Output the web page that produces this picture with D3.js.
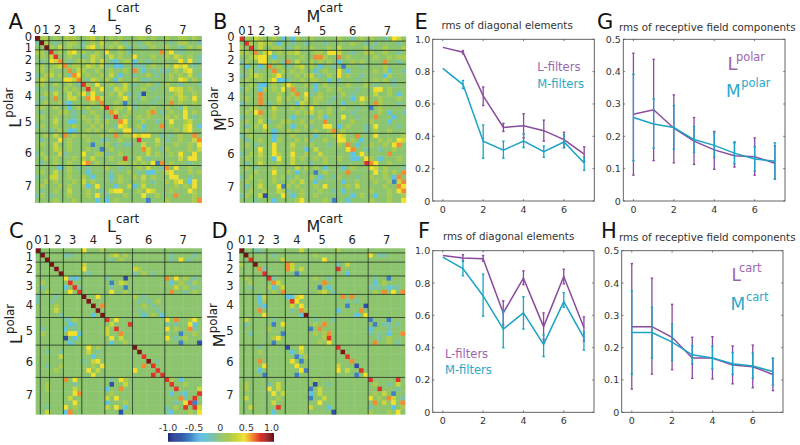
<!DOCTYPE html>
<html>
<head>
<meta charset="utf-8">
<style>
html,body{margin:0;padding:0;background:#fff;}
svg{display:block;font-family:"DejaVu Sans",sans-serif;}
</style>
<script src="https://cdn.jsdelivr.net/npm/d3@7"></script>
</head>
<body>
<svg id="c" width="800" height="445">
<defs><filter id="soft" x="-2%" y="-2%" width="104%" height="104%"><feGaussianBlur stdDeviation="0.4"/></filter></defs>
</svg>
<script>
// ---- heat map data: every letter is one cell's colour level
const levelCodes  = ['a','b','c','d','.','e','f','g','h','i','j'];
const levelValues = [-0.8,-0.6,-0.35,-0.15,0,0.15,0.3,0.45,0.6,0.75,0.95];
const groupSizes = [1,2,3,4,5,6,7,8];
const groupLabels = ['0','1','2','3','4','5','6','7'];

const heatA = [
"j ee .e. eee. .ef.e .e.e.. .ee.e.. e..ee.e.",
"d je .d. .ee. d.e.f ..e.d. .d.e... .d.ee..d",
". .j e.f .e.. dfg.e .e.f.d ..d.e.. e..d.e.e",
"e e. i.e .fg. e..e. g..e.d ......h eg.d....",
". e. fi. .e.. d.fe. .f.e.. g...e.. e.fe.e.d",
". d. gfh .d.e e.f.f .dc.ee c..d... ...g.g.d",
". e. .ef h.ee .fe.f d.cc.. ddd.e.. e.gfg.d.",
". e. e.. .h.f e..e. .e..e. h.c.d.d d.e.fg..",
"d .e f.e .dhg .e..e .f.c.. d..e.d. .e.e.f.d",
". fe d.. ggfh .dfe. e.ce.. e.dd... .e.gf.e.",
". e. .e. .e.d ie.g. .e..f. d..e.d. e..d...d",
"d .. d.. e.e. .ie.g .dfef. ..e.d.. .gff.e..",
". .e .f. .f.e g.g.. .e.f.d .da.... ..ef..e.",
". d. .h. .ff. .hghf ...eg. .de..d. .e.fe.g.",
"d .e ..e dc.. ..e.h ..e.b. d...d.. .h.e..e.",
". e. .e. .c.e .e..e i.ee.f d...e.. e..df...",
". d. ..e e.d. d.e.. .hf..e ...eh.d .e..g.e.",
". e. .e. ..d. e..e. d.i.e. .e.e... e.e.g.d.",
". .. .f. .cc. .e.e. e..hg. ..e..d. .g..ef..",
"d e. .e. ..e. ..e.e ..dgf. .ec...h .e..fg.c",
". .. d.e .cc. .e.e. .e..gg d.d.... ..e.fg..",
". .e .f. h.e. e...e ..h.ee gfgg..d .d.e..h.",
". d. ..g .e.. .e..d d..e.. .i...f. d..e..fh",
". e. .f. .e.. ..b.. e.d.dd ..f..e. ..e..e.g",
". .. .fe .e.. .e..b .e.... ..hf..d e....e.f",
"d e. ..f d... g..ee d..e.. ...f.e. .e.g..g.",
". .e .e. ..e. e.f.. .e..i. .f.d... ...f.gg.",
". d. .e. .e.. gh.e. ...ee. e.e.gbh .e...d..",
". .. ..c .e.d .d... e..d.. .e.f..d h.g..e..",
". e. .f. .e.. .c... .d...e .d.cc.. fg...e.e",
"d .. ff. .e.. e.c.. .c.e.. e.f.e.. .gg..d..",
". .e .e. ..e. f.e.. .d.e.. ..e.d.. e.fg.cg.",
". e. ..e .e.. ec.g. ..c..f c.f.... ..e.e.g.",
". d. .e. .f.. .e..d .fgg.. .e.gf.. .e...ge.",
"d e. d.. .e.. .e.g. d...e. ..g..e. ..h...e.",
". .. .e. ..e. ...c. c.e... ...b... e.....eh"
];
const heatB = [
"i e. fe. .e.c .ce.. e..... e..d.e. e..d.gf.",
". ie .fe e.c. .d..d ...d.. ...e..d .d....d.",
"e .i .f. .ee. d.e.. e...e. f.....e d..e...e",
"e e. h.f g.e. eef.. .ee.gg f..d..e e..e..d.",
". .e fgg .c.. ...e. .hhe.. h.e.... .e..e.ee",
"d e. .gg .e.d h.f.. e.e.e. c..e.e. ...h..d.",
". c. .c. h.e. d.ef. e.c..d .b...d. ...e....",
". .e d.. .h.e .e.e. .c.e.. g.c.... .e.ec..d",
"d .e fe. .eg. ..e.e f.d.e. g.e..d. ...ce...",
". e. .e. egcc d..e. ee..c. d...d.. .e.e.d..",
". .e .cc .e.e ge..e .c.e.. ..e...e .d...d..",
"d e. .ce .e.g .h... .c..e. e...d.. .gg.e...",
". .. .h. ..e. .eh.g d.e... .e.d... .f..e.c.",
". e. .h. ..f. e.e.f .ee..d ...c.ge ..e...e.",
"d .. .h. d.e. ..cfe .e..d. .c...e. .he...d.",
". .e e.. .f.. .e.e. g...e. .e..d.. b.e.....",
". e. gh. .e.. ..e.e f.e.e. ...d... ..e.c..d",
"d .. .e. .e.. .c... d.ec.. .g..d.. .h...c..",
". e. .f. d..e e..e. e..h.. ...e... e...c...",
". d. e.g ..e. .c..e d..gg. c.e...d .g....d.",
". e. ..e .c.. e.e.. .e..eh .e....d .e..e...",
"d .e ... .c.. .e... .c...e gf..h.. .g.....e",
". d. .e. .ce. ..e.e d..e.. gg.e.c. ..e.e.gf",
". e. d.. .g.. .f... e...d. e.h.c.. e..e.gh.",
". .. .g. .g.. .e..c .f.... ..gh..d ..d..e..",
"d .e .f. .ge. .g..e ..f... ...c.g. ....h...",
". e. .e. .cg. .f.e. .e.e.. e..cc.g e.c...e.",
". d. .f. ..e. .f... d..e.. ......i hg..e...",
". e. d.. .e.. ..f.e .e.c.. .c.e... gf.e...d",
". .. e.. .g.. e.c.. .b.e.. ..h.... .g.e.e.h",
"d .e ... .e.e d.e.. e.c..d e...d.. e..e.ch.",
". e. .e. .e.. .e.f. .c.... .c..e.. .e..ebfh",
". d. .f. ..gb e.e.. .e.g.. ..e.f.. ...e..hg",
". .e ..e ..fe d..e. ..e..d .c..... e...e.gh",
"d e. .fa ...g .c.e. .e.... ...c.e. .c..e..e",
". .. d.. .c.. ..eg. ...e.b ..c.... e...e..g"
];
const heatC = [
"j .. ... .... g...e ...... ....... ........",
". j. ... dd.. ..... .ef.e. ....... .d....d.",
". .j ... .... ..... .d.e.. ....... .d.g.d..",
". .. j.. .... f.... ...... ....... ........",
". .. .j. .... g.... ...... fe..... ........",
". .. ..j .... .d... ...... d.e.d.. ........",
". .. ... gdcd ..... d...a. ....... h.g.e.d.",
". e. ... .i.. ..... .b.fe. ....... .c.e.de.",
". d. ... c.id ..... .d..b. ....... ..f.e.d.",
". .e ... .g.i ..... .g..e. ....... .h..d.e.",
"d .. .d. .... j..g. ...... e.d.... ........",
"d .. d.. .... .j... ...... .d.d.e. ........",
". .. .e. .... ..j.h ...... ..e.d.. ........",
". .. .f. .... ...j. ...... .d...d. ........",
". .. ..d .... ..c.j ...... ..c.e.c ........",
". .. ... dde. ..... i.g... ....... g.h..eg.",
". .. ... .cd. ..... .f...i ....... d.d..gc.",
". d. ... c.d. ..... f.i... ....... g.e..hd.",
". e. ... .ggc ..... f..h.. ....... ...b..e.",
". .. ... a.c. ..... .g.f.. ....... g.d.e...",
". .. ... .c.. ..... .c..e. ....... ...b...a",
". .. ... .... .g.e. ...... j...... ........",
". .d ..d .... .f.d. ...... .j..... ........",
". .. ..f .... ..c.. ...... ..i.... ........",
". .. ... .... d.fg. ...... ...j.d. ........",
". .d ..e .... ..e.g ...... ..h.i.. ........",
". .. .e. .... .g.f. ...... g....i. ........",
". .. ... .... ..g.. ...... ....i.i ........",
". .. ... h.g. ..... .d.ge. ....... ie.c....",
". .e ... ..d. ..... .a..f. ....... .i..e...",
". .e ... ..f. ..... c..h.. ....... ..i....f",
". .. ... ..gh ..... .e.... ....... .c.dc..i",
". .. ... .f.. ..... f.g... ....... ...hd.i.",
". .. ... ..g. ..... c...e. ....... ..d.gib.",
". .d ... g.e. ..... f.g.c. ....... d.e.i.if",
". .f ... ch.. ..... ...a.. ....... dc...e.g"
];
const heatD = [
"j .. dd. .... ...f. ...... e...... ........",
". j. ... .d.. ..... .e.... ....... g.dd....",
". .i ... ...f ..... ...g.. ....... ........",
"e .. j.. .... hf... ...... d.f.... ........",
". .. .hd .... hf.f. ...... i...... ........",
". .. ..i .... ..b.. ...... ..c.... ........",
". e. ... id.. ..... .e..d. ....... .d..b...",
". .e ... .hf. ..... ...h.. ....... .c.e....",
". .d ... ec.f ..... ..b.c. ....... ddd.cdd.",
". .. ... .e.h ..... ..ef.d ....... .e.h.g.h",
". .. .cf .... ccfg. ...... .h.h... ........",
". .. .ce .... .ig.. ...... ..d.d.. ........",
". .. .dc .... .f.g. ...... ..b...a ........",
". .. .h. .... .d.he ...... c....h. ........",
". .. ..g .... ...cj ...... ....c.g ........",
". f. ... .d.. ..... .d...d ....... b...b...",
". d. ... .b.g ..... .e.h.. ....... .b.dd.d.",
". .. ... e... ..... b.h... ....... c...d...",
". .d ... ...b ..... .e.eh. ....... d.d.c..h",
". .. ... .eg. ..... ...ei. ....... ..d.e...",
". .. ... .b.. ..... ..e.g. ....... .h..e.d.",
". .. .d. .... a..g. ...... i...... ........",
". .. .e. .... .c.f. ...... .j..... ........",
". .. ... .... ..bde ...... ..i.... ........",
". .. .h. .... .g.b. ...... ...h... ........",
". .. ..g .... ..g.. ...... f...a.. ........",
". .. .c. .... ...gb ...... g.f..i. ........",
". .. ..b .... ..b.. ...... ....b.g ........",
". .. ... .... ..... .e.... ....... i.....i.",
". e. ... d.f. ..... .a..d. ....... .e..d.f.",
". e. ... g.f. ..... b.f... ....... ..i...d.",
". .. ... .g.f ..... c.f... ....... .e.f.b..",
". f. ... ..e. ..... b..f.. ....... g.e.hf.d",
". .. ... .f.. ..... ..g... ....... .h.f.g.h",
". .f ... ..i. ..... f...c. ....... d....c.e",
". .. ... .c.. ..... .....a ....... e...e.g."
];

// ---- line chart data
const xIdx = [0,1,2,3,4,5,6,7];
const eL = [0.95,0.92,0.65,0.455,0.465,0.435,0.38,0.29];
const eLlo = [0.95,0.91,0.59,0.43,0.39,0.37,0.33,0.245];
const eLhi = [0.95,0.93,0.705,0.48,0.54,0.50,0.425,0.335];
const eM = [0.82,0.72,0.37,0.315,0.37,0.305,0.365,0.235];
const eMlo = [0.82,0.695,0.265,0.265,0.33,0.27,0.33,0.19];
const eMhi = [0.82,0.745,0.47,0.37,0.415,0.34,0.41,0.27];

const fL = [0.97,0.955,0.95,0.615,0.83,0.53,0.84,0.525];
const fLlo = [0.97,0.935,0.935,0.54,0.79,0.45,0.795,0.44];
const fLhi = [0.97,0.975,0.97,0.69,0.875,0.615,0.885,0.59];
const fM = [0.96,0.89,0.72,0.515,0.615,0.42,0.685,0.46];
const fMlo = [0.96,0.845,0.595,0.40,0.515,0.345,0.65,0.385];
const fMhi = [0.96,0.94,0.855,0.63,0.715,0.48,0.74,0.50];

const gL = [0.268,0.282,0.225,0.185,0.158,0.14,0.137,0.117];
const gLlo = [0.08,0.125,0.118,0.113,0.098,0.105,0.08,0.068];
const gLhi = [0.457,0.438,0.328,0.258,0.215,0.18,0.195,0.17];
const gM = [0.258,0.238,0.227,0.19,0.172,0.148,0.13,0.123];
const gMlo = [0.125,0.163,0.16,0.15,0.135,0.115,0.092,0.068];
const gMhi = [0.392,0.315,0.295,0.23,0.21,0.183,0.168,0.18];

const hL = [0.265,0.265,0.232,0.168,0.168,0.146,0.141,0.117];
const hLlo = [0.072,0.118,0.132,0.105,0.103,0.088,0.076,0.067];
const hLhi = [0.46,0.415,0.334,0.232,0.234,0.205,0.208,0.167];
const hM = [0.247,0.247,0.217,0.178,0.168,0.15,0.143,0.126];
const hMlo = [0.118,0.168,0.16,0.15,0.134,0.117,0.105,0.084];
const hMhi = [0.376,0.325,0.273,0.206,0.204,0.185,0.183,0.167];

const xTicks = [0,2,4,6];
const yTicks1 = [0,0.2,0.4,0.6,0.8,1.0];
const yTicks5 = [0,0.1,0.2,0.3,0.4,0.5];
const cbarTicks = [-1,-0.5,0,0.5,1];

// ---- colours
const colL = '#8a4a9e', colM = '#1ba3c6';
const txtL = '#9a66b0', txtM = '#2aa9c9';
const heatColor = d3.scaleLinear()
  .domain([-1,-0.8,-0.6,-0.35,-0.15,0,0.15,0.3,0.45,0.6,0.75,0.95,1])
  .range(['#1d2a80','#2f4fa2','#3f7fc4','#5fc4e4','#7cc3a6','#8dc46e','#abcb4e','#c9d63a','#f2e02a','#f28c30','#e2352c','#7a1518','#701015']);

const svg = d3.select('#c');
const nCells = d3.sum(groupSizes);
const cellIds = d3.range(nCells);
const groupStarts = d3.cumsum([0].concat(groupSizes));
const rowBase = [4.5,15.5,27.5,45,64,90,121,154];

function decode(rows){
  return rows.map(r => Array.from(r.replace(/ /g,'')).map(ch => levelValues[levelCodes.indexOf(ch)]));
}
function text(g,x,y,s,size,fill,anchor){
  return g.append('text').attr('x',x).attr('y',y).attr('font-size',size)
    .attr('fill',fill||'#222').attr('text-anchor',anchor||'start').text(s);
}
function heat(opt){
  const g = svg.append('g');
  const cells = g.append('g').attr('filter','url(#soft)');
  const x = d3.scaleBand().domain(cellIds).range([opt.l,opt.r]);
  const y = d3.scaleBand().domain(cellIds).range([opt.t,opt.b]);
  const m = decode(opt.rows);
  m.forEach((row,ri)=>{
    cells.selectAll(null).data(row).enter().append('rect')
      .attr('x',(d,ci)=>x(ci)).attr('y',y(ri))
      .attr('width',x.bandwidth()+0.4).attr('height',y.bandwidth()+0.4)
      .attr('fill',d=>heatColor(d));
  });
  const ls = x.step();
  groupStarts.slice(1,-1).forEach(s=>{
    g.append('line').attr('x1',opt.l+s*ls).attr('x2',opt.l+s*ls).attr('y1',opt.t).attr('y2',opt.b)
      .attr('stroke','#1c2a20').attr('stroke-width',0.9).attr('opacity',0.85);
    const yy = opt.t+s*y.step();
    g.append('line').attr('x1',opt.l).attr('x2',opt.r).attr('y1',yy).attr('y2',yy)
      .attr('stroke','#1c2a20').attr('stroke-width',0.9).attr('opacity',0.85);
  });
  groupLabels.forEach((lab,i)=>{
    const c = groupStarts[i]+groupSizes[i]/2;
    text(g,opt.l+c*ls+(i<3&&i>0?1.5:0),opt.t+opt.colDy,lab,11.5,'#222','middle');
    text(g,opt.rowX,opt.t+rowBase[i]+opt.rowDy,lab,11.5,'#222','middle');
  });
  // titles
  const isM = opt.letter==='M';
  text(g,opt.tx,opt.t-15+opt.titleDy,opt.letter,16,'#222');
  text(g,opt.tx+(isM?13:9),opt.t-24.5+opt.titleDy,'cart',11.8,'#222');
  const rot = g.append('g').attr('transform',`translate(${opt.l-14},${opt.t+opt.rotDy}) rotate(-90)`);
  text(rot,0,0,opt.letter,16,'#222');
  text(rot,isM?14:10,-8,'polar',11.8,'#222');
}
function panelLetter(x,y,s){ text(svg,x,y,s,21,'#111'); }

heat({rows:heatA,l:35,r:201.5,t:36,b:202.5,letter:'L',tx:107,colDy:-2,rowDy:0,rowX:28.3,rotDy:91.7,titleDy:0});
heat({rows:heatB,l:239.7,r:405.8,t:36.5,b:202.5,letter:'M',tx:306.5,colDy:-2,rowDy:0,rowX:231,rotDy:94.5,titleDy:0});
heat({rows:heatC,l:35.7,r:201.7,t:248.3,b:414.3,letter:'L',tx:107,colDy:-4,rowDy:-3,rowX:29.3,rotDy:95.7,titleDy:-1});
heat({rows:heatD,l:239.3,r:405,t:248.3,b:414.3,letter:'M',tx:306.5,colDy:-4,rowDy:-3,rowX:230,rotDy:99,titleDy:-1});
panelLetter(8.5,29,'A'); panelLetter(213,29,'B'); panelLetter(9,237.5,'C'); panelLetter(211.5,237.5,'D');
panelLetter(414.5,29,'E'); panelLetter(418,237.5,'F'); panelLetter(597,29,'G'); panelLetter(601,238,'H');

// colour bar
(function(){
  const g = svg.append('g');
  const x = d3.scaleLinear().domain([-1,1]).range([168,272.5]);
  const vals = d3.range(-1,1.0001,0.02);
  g.append('g').attr('filter','url(#soft)').selectAll(null).data(vals).enter().append('rect')
    .attr('x',d=>x(d)).attr('y',433).attr('width',1.5).attr('height',8.7).attr('fill',d=>heatColor(d));
  cbarTicks.forEach(t=>{
    const s = t===0?'0':d3.format('.1f')(Math.abs(t));
    text(g,x(t)-(t===1?1:0),431,(t<0?'-':'')+s,9.5,'#333','middle');
  });
})();

function lineChart(opt){
  const g = svg.append('g');
  const x = d3.scaleLinear().domain([-0.5,7.5]).range([opt.l,opt.r]);
  const y = d3.scaleLinear().domain(opt.ydom).range([opt.b,opt.t]);
  const line = d3.line().x((d,i)=>x(xIdx[i])).y(d=>y(d));
  const series = [[opt.L,opt.Llo,opt.Lhi,colL],[opt.M,opt.Mlo,opt.Mhi,colM]];
  series.forEach(([v,lo,hi,c])=>{
    xIdx.forEach((xi,i)=>{
      if(hi[i]-lo[i]<0.002) return;
      const px = x(xi);
      g.append('line').attr('x1',px).attr('x2',px).attr('y1',y(lo[i])).attr('y2',y(hi[i]))
        .attr('stroke',c).attr('stroke-width',1.3);
      [lo[i],hi[i]].forEach(e=>{
        g.append('line').attr('x1',px-1.2).attr('x2',px+1.2).attr('y1',y(e)).attr('y2',y(e))
          .attr('stroke',c).attr('stroke-width',1.4);
      });
    });
    g.append('path').attr('d',line(v)).attr('fill','none').attr('stroke',c).attr('stroke-width',1.5);
  });
  // frame and inward ticks on all four sides
  g.append('rect').attr('x',opt.l).attr('y',opt.t).attr('width',opt.r-opt.l).attr('height',opt.b-opt.t)
    .attr('fill','none').attr('stroke','#555').attr('stroke-width',0.9);
  xTicks.forEach(t=>{
    [[opt.b,opt.b-1.8],[opt.t,opt.t+1.8]].forEach(([a,b])=>{
      g.append('line').attr('x1',x(t)).attr('x2',x(t)).attr('y1',a).attr('y2',b).attr('stroke','#555').attr('stroke-width',0.8);
    });
    text(g,x(t),opt.b+12,String(t),9.5,'#333','middle');
  });
  opt.yticks.forEach(t=>{
    [[opt.l,opt.l+1.8],[opt.r,opt.r-1.8]].forEach(([a,b])=>{
      g.append('line').attr('x1',a).attr('x2',b).attr('y1',y(t)).attr('y2',y(t)).attr('stroke','#555').attr('stroke-width',0.8);
    });
    text(g,opt.l-2.5,y(t)+3.5,t===0?'0':d3.format('.1f')(t),9.5,'#333','end');
  });
  text(g,opt.tx,opt.ty,opt.title,opt.tsize,'#333');
}
const titleD = 'rms of diagonal elements', titleR = 'rms of receptive field components';
lineChart({l:432.7,r:594.3,t:39.3,b:201,ydom:[0,1],yticks:yTicks1,L:eL,Llo:eLlo,Lhi:eLhi,M:eM,Mlo:eMlo,Mhi:eMhi,title:titleD,tx:441.5,ty:29,tsize:10.3});
lineChart({l:432.7,r:594,t:250.7,b:412.3,ydom:[0,1],yticks:yTicks1,L:fL,Llo:fLlo,Lhi:fLhi,M:fM,Mlo:fMlo,Mhi:fMhi,title:titleD,tx:443,ty:240,tsize:10.3});
lineChart({l:623.3,r:785,t:39.3,b:201,ydom:[0,0.5],yticks:yTicks5,L:gL,Llo:gLlo,Lhi:gLhi,M:gM,Mlo:gMlo,Mhi:gMhi,title:titleR,tx:619,ty:31,tsize:10.3});
lineChart({l:621.7,r:783,t:250.7,b:412.3,ydom:[0,0.5],yticks:yTicks5,L:hL,Llo:hLlo,Lhi:hLhi,M:hM,Mlo:hMlo,Mhi:hMhi,title:titleR,tx:619,ty:241,tsize:10.3});

// legends
text(svg,537.3,71,'L-filters',11.5,txtL); text(svg,537.3,87.5,'M-filters',11.5,txtM);
text(svg,445,358,'L-filters',11.5,txtL); text(svg,445,374,'M-filters',11.5,txtM);
text(svg,727.5,70,'L',18,txtL); text(svg,736,60.5,'polar',11.4,txtL);
text(svg,726,96.5,'M',17,txtM); text(svg,741.3,87,'polar',11.4,txtM);
text(svg,731.5,281,'L',17,txtL); text(svg,739,272,'cart',11.4,txtL);
text(svg,730.5,310,'M',17,txtM); text(svg,746,301,'cart',11.4,txtM);
</script>
</body>
</html>
